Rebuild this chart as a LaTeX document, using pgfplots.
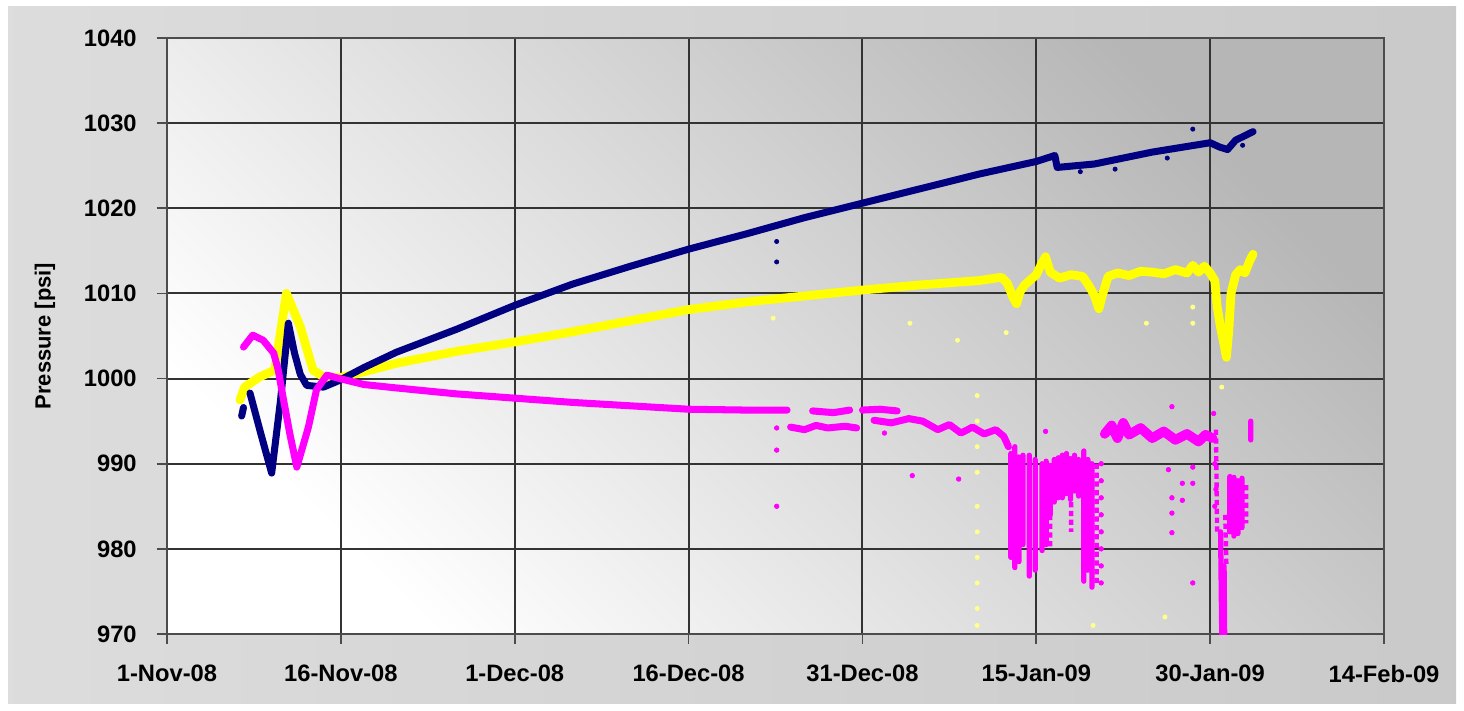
\documentclass[border=0pt]{standalone}
\usepackage{pgfplots}
\pgfplotsset{compat=1.18}
\usepackage{fontspec}
\setmainfont{Liberation Sans}
\definecolor{navyc}{RGB}{0,0,128}
\definecolor{yelc}{RGB}{255,255,0}
\definecolor{magc}{RGB}{255,0,255}
\begin{document}
\begin{tikzpicture}[x=1cm,y=1cm]
\path[use as bounding box] (0,0) rectangle (29.28,14.2);
\fill[white] (0,0) rectangle (29.28,14.2);
\shade[left color=gray!27, right color=gray!42] (0.16,0.14) rectangle (29.12,14.06);
\begin{axis}[
  at={(3.34cm,1.52cm)}, anchor=south west,
  scale only axis, width=24.34cm, height=11.92cm,
  xmin=0, xmax=105, ymin=970, ymax=1040,
  xtick={0,15,...,105},
  xticklabels={1-Nov-08,16-Nov-08,1-Dec-08,16-Dec-08,31-Dec-08,15-Jan-09,30-Jan-09,14-Feb-09},
  ytick={970,980,...,1040},
  /pgf/number format/assume math mode=true,
  /pgf/number format/set thousands separator={},
  grid=major, major grid style={black!80, line width=1.1pt},
  axis line style={black!70, line width=1.3pt},
  tick align=outside, tick pos=left,
  major tick style={black!70, line width=1pt}, major tick length=0.2cm,
  ticklabel style={font=\bfseries\fontsize{13.5}{15}\selectfont, inner sep=0pt},
  yticklabel style={anchor=east, xshift=-0.4cm},
  xticklabel style={anchor=north, yshift=-0.42cm},
  ylabel={Pressure [psi]},
  every axis y label/.style={at={(rel axis cs:0,0.5)}, xshift=-2.44cm, rotate=90, anchor=center, font=\bfseries\fontsize{12.5}{14}\selectfont},
  axis background/.style={shade, top color={rgb,255:red,182;green,182;blue,182}, bottom color=white, shading angle=-45},
  unbounded coords=jump,
]
% ---------------- yellow ----------------
\addplot[yelc, line width=5pt, line join=round, line cap=round] coordinates {
(6.3,997.5) (6.7,999.0) (8.0,1000.2) (9.3,1001.0) (10.3,1010.0) (11.5,1006.1) (12.6,1001.0) (13.5,1000.2) (14.9,1000.1)
(17,1000.8) (19.8,1001.8) (25,1003.2) (30,1004.3) (35,1005.5) (40,1006.8) (45,1008.1) (50,1009.0) (55,1009.7) (60,1010.4)
(65,1011.0) (70,1011.5) (71,1011.7) (72,1011.9) (72.5,1011.2) (73,1009.5) (73.3,1008.8) (73.6,1010.2) (74,1011.0) (74.5,1011.6)
(75,1012.2) (75.5,1013.6) (75.8,1014.3) (76.2,1012.5) (77,1011.8) (78,1012.2) (79,1012.0) (79.5,1011.0) (80,1009.8) (80.4,1008.2)
(80.7,1009.8) (81.2,1012.0) (82,1012.4) (83,1012.1) (84,1012.6) (85,1012.5) (86,1012.3) (87,1012.8) (88,1012.4) (88.5,1013.3)
(89,1012.5) (89.5,1013.2) (90,1012.4) (90.4,1011.5) (90.6,1008.5) (90.9,1006.0) (91.2,1004.0) (91.4,1002.5) (91.6,1005.5)
(91.8,1010.0) (92.2,1012.2) (92.6,1012.8) (93,1012.4) (93.4,1013.8) (93.7,1014.6)
};
\addplot[only marks, mark=*, mark size=1.2pt, yelc!45, draw=none] coordinates {
(69.9,998) (69.9,995) (69.9,992) (69.9,989) (69.9,985) (69.9,982) (69.9,979) (69.9,976) (69.9,973) (69.9,971)
(86.1,972) (79.9,971) (84.5,1006.5) (88.5,1008.4) (88.5,1006.5) (52.3,1007.1) (64.1,1006.5) (68.2,1004.5) (72.4,1005.4) (91.0,999.0)
};
% ---------------- navy ----------------
\addplot[navyc, line width=4pt, line join=round, line cap=round] coordinates {
(6.44,995.6) (6.6,996.6) (nan,nan)
(7.16,998.3) (8.1,993.5) (9.03,988.9) (9.8,997.5) (10.47,1006.5) (11.0,1003.0) (11.5,1000.5) (12.05,999.2) (13.5,999.0) (14.9,999.8)
(17,1001.3) (19.8,1003.1) (25,1005.8) (30,1008.6) (35,1011.1) (40,1013.2) (45,1015.2) (50,1017.0) (55,1018.9) (60,1020.6)
(65,1022.3) (70,1024.0) (75,1025.5) (76.6,1026.2) (76.8,1024.8) (80,1025.2) (85,1026.6) (90,1027.7) (90.8,1027.2) (91.5,1026.9)
(92.2,1028.0) (93.7,1029.0)
};
\addplot[only marks, mark=*, mark size=1.2pt, navyc] coordinates {
(52.6,1016.1) (52.6,1013.7) (88.5,1029.3) (92.8,1027.4) (78.8,1024.3) (81.8,1024.6) (86.3,1025.9)
};
% ---------------- magenta: main band ----------------
\addplot[magc, line width=4pt, line join=round, line cap=round] coordinates {
(6.6,1003.7) (7.4,1005.1) (8.3,1004.5) (9.2,1003.0) (9.6,1001.0) (10.0,997.9) (10.6,993.5) (11.2,989.6) (12.2,994.3) (12.9,998.7)
(13.8,1000.4) (14.9,1000.0) (17,999.3) (19.8,998.9) (25,998.2) (30,997.7) (35,997.2) (40,996.8) (45,996.4) (50,996.3) (53.5,996.3) (nan,nan)
(53.8,994.3) (55,994.0) (56,994.5) (57,994.2) (58.5,994.4) (59.5,994.2) (nan,nan)
(55.7,996.2) (57.5,996.0) (58.9,996.3) (nan,nan)
(60.0,996.3) (61.5,996.4) (63.0,996.2) (nan,nan)
(61.0,995.1) (62.5,994.8) (64.0,995.3) (65.2,995.0) (66.5,994.0) (67.5,994.6) (68.5,993.6) (69.5,994.3) (70.5,993.5) (71.5,994.0)
(72.2,993.2) (72.6,992.0)
};
\addplot[magc, line width=5.5pt, line join=round, line cap=round] coordinates {
(80.9,993.5) (81.5,994.5) (82,993.0) (82.5,994.8) (83,993.4) (84,994.2) (85,993.0) (86,993.8) (87,992.8) (88,993.5) (89,992.6)
(89.6,993.4) (90.2,993.0)
};
% ---------------- magenta: scattered strands ----------------
\addplot[magc, line width=3pt, line cap=round] coordinates {
(72.8,991.2) (72.8,979.0) (nan,nan) (73.15,992.0) (73.15,977.8) (nan,nan) (73.5,990.8) (73.5,978.5) (nan,nan) (73.85,991.0) (73.85,980.5) (nan,nan)
(74.4,991.0) (74.4,976.8) (nan,nan) (74.9,990.5) (74.9,977.5) (nan,nan)
(75.5,990.0) (75.5,979.8) (nan,nan) (75.85,990.3) (75.85,980.5) (nan,nan) (76.2,989.8) (76.2,984.0) (nan,nan)
(76.55,990.5) (76.55,985.5) (nan,nan) (76.9,990.7) (76.9,986.0) (nan,nan) (77.25,991.0) (77.25,986.0) (nan,nan)
(77.6,991.2) (77.6,986.5) (nan,nan) (77.95,990.6) (77.95,985.8) (nan,nan) (78.3,991.0) (78.3,986.8) (nan,nan) (78.65,990.5) (78.65,986.2) (nan,nan)
(79.1,991.5) (79.1,976.2) (nan,nan) (79.45,990.5) (79.45,977.5) (nan,nan) (79.8,990.0) (79.8,975.5) (nan,nan)
(90.9,982.0) (91.0,970.0) (nan,nan) (91.2,978.0) (91.25,970.0) (nan,nan)
(91.7,988.5) (91.7,982.0) (nan,nan) (92.05,988.4) (92.05,981.5) (nan,nan) (92.4,988.0) (92.4,981.8) (nan,nan) (92.75,988.3) (92.75,982.5) (nan,nan)
(93.5,995.0) (93.5,992.8)
};
\addplot[magc, line width=2.5pt, dash pattern=on 3pt off 2pt] coordinates {
(76.2,984.0) (76.2,980.0) (nan,nan) (78.0,985.5) (78.0,982.0) (nan,nan)
(80.2,990.0) (80.2,976.0) (nan,nan)
(90.5,994.0) (90.6,982.0) (nan,nan) (91.3,984.0) (91.4,978.0) (nan,nan)
(93.1,987.5) (93.1,983.0)
};
\addplot[only marks, mark=*, mark size=1.3pt, magc] coordinates {
(52.6,994.2) (52.6,991.6) (52.6,985.0) (64.3,988.6) (68.3,988.2) (75.8,993.8) (88.5,976.0) (86.7,996.7) (90.3,995.9)
(80.6,990) (80.6,988) (80.6,986) (80.6,984) (80.6,982) (80.6,980) (80.6,978) (80.6,976)
(86.4,989.3) (86.7,986.0) (86.7,984.2) (86.7,981.9) (87.6,987.7) (87.6,985.7) (88.5,987.7) (88.5,989.6)
(90.4,990) (90.5,987) (90.4,985) (56.8,996.0) (61.9,993.6)
};
\end{axis}
\end{tikzpicture}
\end{document}
